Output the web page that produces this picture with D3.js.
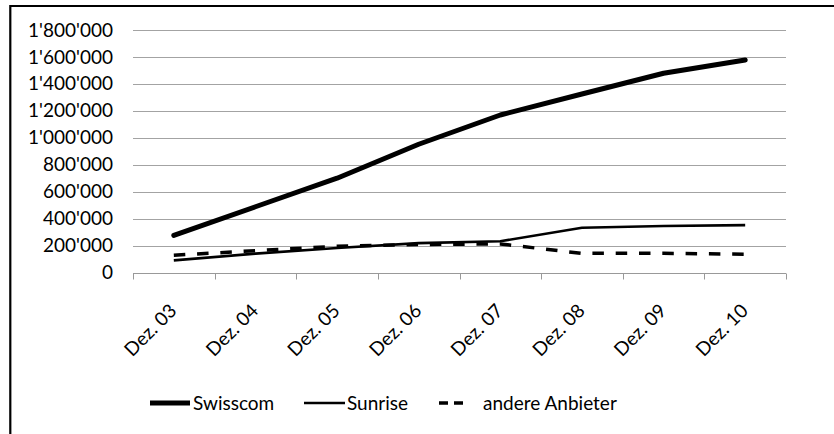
<!DOCTYPE html>
<html>
<head>
<meta charset="utf-8">
<script src="https://cdn.jsdelivr.net/npm/d3@7"></script>
<style>
  html, body { margin: 0; padding: 0; background: #fff; }
  svg { display: block; }
  text { font-family: Lato, "Open Sans", sans-serif; fill: #000; }
</style>
</head>
<body>
<svg id="chart" width="834" height="434"></svg>
<script>
const categories = ["Dez. 03", "Dez. 04", "Dez. 05", "Dez. 06", "Dez. 07", "Dez. 08", "Dez. 09", "Dez. 10"];
const swisscom = [275000, 488000, 700000, 952000, 1169000, 1325000, 1479000, 1578000];
const sunrise = [90000, 140000, 182000, 218000, 232000, 332000, 345000, 352000];
const andere = [128000, 162000, 195000, 208000, 212000, 142000, 142000, 136000];
const yTicks = [0, 200000, 400000, 600000, 800000, 1000000, 1200000, 1400000, 1600000, 1800000];
const seriesNames = ["Swisscom", "Sunrise", "andere Anbieter"];

const svg = d3.select("#chart");

// outer frame
svg.append("path")
  .attr("d", "M10.3,440 L10.3,6 L840,6")
  .attr("fill", "none").attr("stroke", "#000").attr("stroke-width", 2.2);

const x = d3.scaleBand().domain(categories).range([133, 786]).padding(0);
const y = d3.scaleLinear().domain([0, 1800000]).range([272.5, 30]);
const cx = d => x(d) + x.bandwidth() / 2;

const loc = d3.formatLocale({decimal: ".", thousands: "'", grouping: [3], currency: ["", ""]});
const fmt = loc.format(",");

// gridlines
svg.append("g").selectAll("line").data(yTicks.filter(v => v > 0)).join("line")
  .attr("x1", 133).attr("x2", 786)
  .attr("y1", d => Math.round(y(d)) + 0.5).attr("y2", d => Math.round(y(d)) + 0.5)
  .attr("stroke", "#a3a3a3").attr("stroke-width", 1);

// y labels
const yAxis = d3.axisLeft(y).tickValues(yTicks).tickFormat(fmt).tickSize(0).tickPadding(0);
const yg = svg.append("g").attr("transform", "translate(113,0)").call(yAxis);
yg.select(".domain").remove();
yg.selectAll("text").attr("font-size", 19).attr("font-family", "Lato").attr("fill", "#000");

// x axis line and ticks
const xBase = Math.round(y(0)) + 0.5;
svg.append("line").attr("x1", 133).attr("x2", 786).attr("y1", xBase).attr("y2", xBase)
  .attr("stroke", "#999").attr("stroke-width", 1);
const bounds = categories.map(c => x(c)).concat([x.range()[1]]);
svg.append("g").selectAll("line").data(bounds).join("line")
  .attr("x1", d => Math.round(d) + 0.5).attr("x2", d => Math.round(d) + 0.5)
  .attr("y1", xBase).attr("y2", xBase + 6)
  .attr("stroke", "#999").attr("stroke-width", 1);

// x labels
svg.append("g").selectAll("text").data(categories).join("text")
  .attr("transform", d => `translate(${cx(d) + 4},312) rotate(-45)`)
  .attr("text-anchor", "end")
  .attr("font-size", 19)
  .text(d => d);

// lines
const line = d3.line().x((d, i) => cx(categories[i])).y(d => y(d));
svg.append("path").datum(andere).attr("d", line)
  .attr("fill", "none").attr("stroke", "#000").attr("stroke-width", 3.5)
  .attr("stroke-dasharray", "11.5,11.8");
svg.append("path").datum(sunrise).attr("d", line)
  .attr("fill", "none").attr("stroke", "#000").attr("stroke-width", 2.6)
  .attr("stroke-linejoin", "round");
svg.append("path").datum(swisscom).attr("d", line)
  .attr("fill", "none").attr("stroke", "#000").attr("stroke-width", 5)
  .attr("stroke-linejoin", "round").attr("stroke-linecap", "round");

// legend
const ly = 403;
const legend = [
  {name: seriesNames[0], x1: 150, x2: 190, w: 5, dash: null, tx: 193},
  {name: seriesNames[1], x1: 304, x2: 345, w: 2.6, dash: null, tx: 347},
  {name: seriesNames[2], x1: 439, x2: 463, w: 3.5, dash: "9,6", tx: 483}
];
const lg = svg.append("g");
legend.forEach(l => {
  lg.append("line").attr("x1", l.x1).attr("x2", l.x2).attr("y1", ly).attr("y2", ly)
    .attr("stroke", "#000").attr("stroke-width", l.w)
    .attr("stroke-dasharray", l.dash);
  lg.append("text").attr("x", l.tx).attr("y", ly).attr("dy", "0.35em")
    .attr("font-size", 19).text(l.name);
});
</script>
</body>
</html>
